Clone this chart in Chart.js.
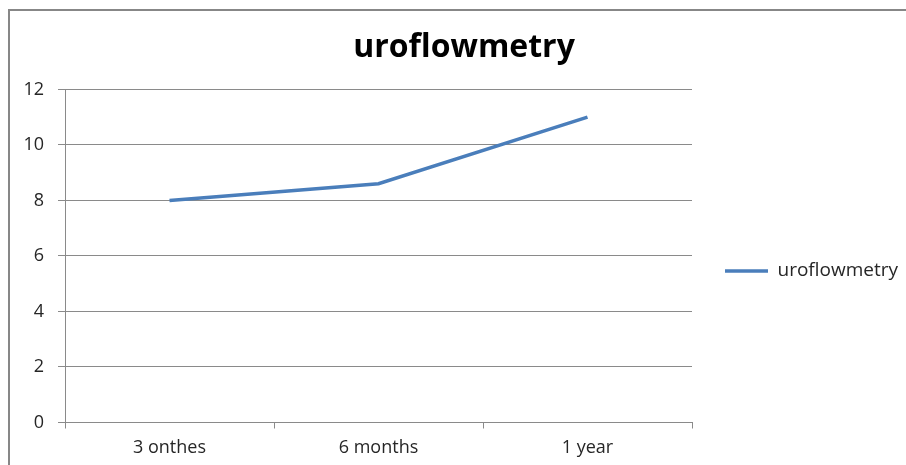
<!DOCTYPE html>
<html>
<head>
<meta charset="utf-8">
<script src="https://cdn.jsdelivr.net/npm/chart.js@4"></script>
<style>
  html, body { margin: 0; padding: 0; background: #fff; overflow: hidden; }
  #wrap { position: relative; width: 906px; height: 465px; }
  #frame { position: absolute; left: 8px; top: 9px; width: 960px; height: 500px; border: 2px solid #878787; box-sizing: border-box; }
  #chart { position: absolute; left: 0; top: 0; }
</style>
</head>
<body>
<div id="wrap">
  <div id="frame"></div>
  <canvas id="chart" width="906" height="465"></canvas>
</div>
<script>
// chart data
const categories = ['3 onthes', '6 months', '1 year'];
const uroflowmetry = [8, 8.6, 11];
const yTicks = [0, 2, 4, 6, 8, 10, 12];

const gridColor = '#8a8a8a';
const textColor = '#262626';

const ctx = document.getElementById('chart').getContext('2d');
new Chart(ctx, {
  type: 'line',
  data: {
    labels: categories,
    datasets: [
      {
        label: 'uroflowmetry',
        data: uroflowmetry,
        borderColor: '#4a7ebb',
        backgroundColor: '#4a7ebb',
        borderWidth: 3.5,
        pointRadius: 0,
        tension: 0,
      },
    ],
  },
  options: {
    responsive: false,
    animation: false,
    layout: { padding: { left: 22, right: 0, top: 0, bottom: 0 } },
    plugins: {
      title: {
        display: true,
        text: 'uroflowmetry',
        color: '#000',
        font: { family: 'Open Sans', size: 32, weight: 'bold' },
        padding: { top: 29, bottom: 22 },
      },
      legend: {
        position: 'right',
        fullSize: false,
        maxWidth: 214,
        // empty title only pushes the legend entry down a bit
        title: { display: true, text: '', font: { size: 10 }, padding: { top: 18, bottom: 0 } },
        labels: {
          usePointStyle: true,
          pointStyle: 'line',
          pointStyleWidth: 43,
          padding: 33,
          color: textColor,
          font: { family: 'Open Sans', size: 19 },
        },
      },
      tooltip: { enabled: false },
    },
    scales: {
      x: {
        offset: true,
        afterFit: (scale) => { scale.height = 42.5; },
        grid: { offset: true, drawOnChartArea: false, drawTicks: true, tickLength: 6, color: gridColor },
        border: { color: gridColor, width: 1 },
        ticks: { color: textColor, padding: 9, font: { family: 'Open Sans', size: 18 } },
      },
      y: {
        min: 0,
        max: 12,
        afterFit: (scale) => { scale.width = 43; },
        afterBuildTicks: (scale) => { scale.ticks = yTicks.map((v) => ({ value: v })); },
        grid: { color: gridColor, tickLength: 7 },
        border: { color: gridColor, width: 1 },
        ticks: { color: textColor, padding: 14, font: { family: 'Open Sans', size: 18 } },
      },
    },
  },
});
</script>
</body>
</html>
